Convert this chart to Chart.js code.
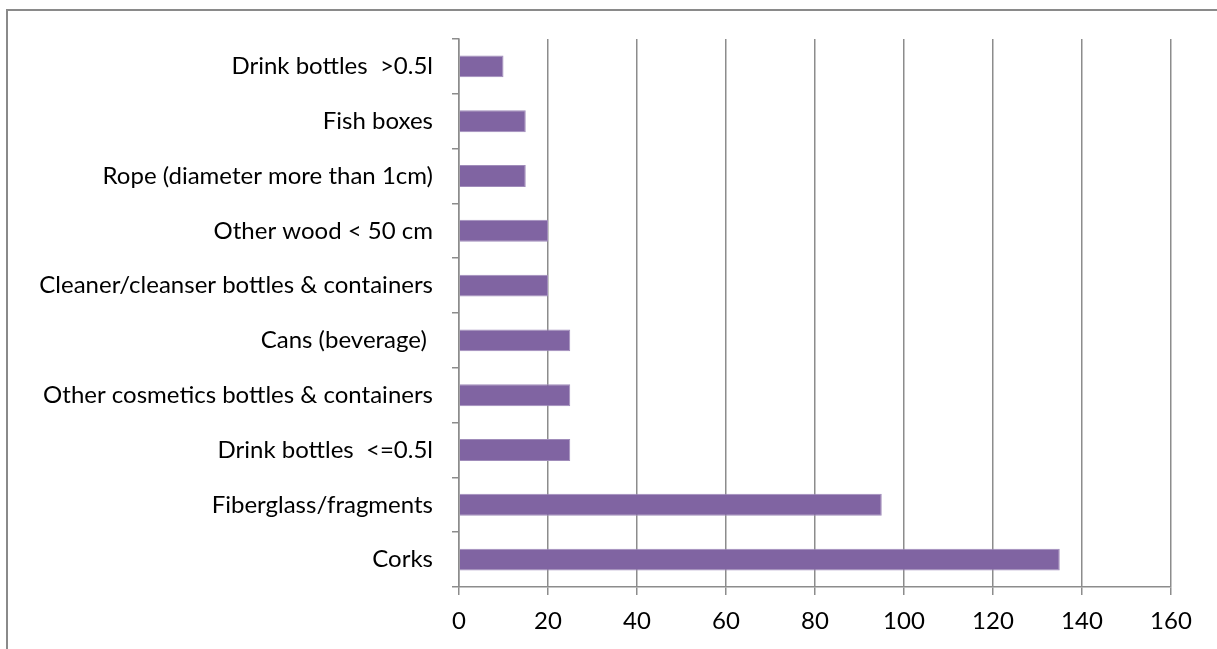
<!DOCTYPE html>
<html>
<head>
<meta charset="utf-8">
<script src="https://cdn.jsdelivr.net/npm/chart.js@4"></script>
<style>
  html, body { margin: 0; padding: 0; background: #ffffff; overflow: hidden; }
  #wrap { position: absolute; left: 0; top: 0; width: 1217px; height: 649px; }
  #frame { position: absolute; left: 6px; top: 9px; width: 1240px; height: 700px; border-left: 2px solid #8a8a8a; border-top: 2px solid #8a8a8a; box-sizing: border-box; }
  canvas { position: absolute; left: 0; top: 0; }
</style>
</head>
<body>
<div id="wrap">
  <div id="frame"></div>
  <canvas id="c" width="1217" height="649"></canvas>
</div>
<script>
const categories = [
  "Drink bottles  >0.5l",
  "Fish boxes",
  "Rope (diameter more than 1cm)",
  "Other wood < 50 cm",
  "Cleaner/cleanser bottles & containers",
  "Cans (beverage) ",
  "Other cosmetics bottles & containers",
  "Drink bottles  <=0.5l",
  "Fiberglass/fragments",
  "Corks"
];
const counts = [10, 15, 15, 20, 20, 25, 25, 25, 95, 135];
const xTicks = [0, 20, 40, 60, 80, 100, 120, 140, 160];

const FONT = { family: "Lato, 'Open Sans', sans-serif", size: 24 };

new Chart(document.getElementById('c'), {
  type: 'bar',
  data: {
    labels: categories,
    datasets: [{
      data: counts,
      backgroundColor: '#8064A2',
      borderColor: '#A08CBA',
      borderWidth: 1,
      barPercentage: 0.4,
      categoryPercentage: 1.0
    }]
  },
  options: {
    indexAxis: 'y',
    responsive: false,
    animation: false,
    layout: { padding: { top: 39, right: 46, left: 0, bottom: 0 } },
    plugins: { legend: { display: false }, tooltip: { enabled: false } },
    scales: {
      x: {
        min: 0, max: 160,
        afterBuildTicks: (axis) => { axis.ticks = xTicks.map(v => ({ value: v })); },
        grid: { color: '#8c8c8c', lineWidth: 1.5, tickLength: 8, drawOnChartArea: true },
        border: { color: '#8c8c8c', width: 1.5 },
        ticks: { color: '#000', font: FONT, padding: 12, maxRotation: 0 },
        afterFit: (axis) => { axis.height = 62; }
      },
      y: {
        grid: { offset: true, color: '#8c8c8c', lineWidth: 1.5, tickLength: 7, drawOnChartArea: false },
        border: { color: '#8c8c8c', width: 1.5 },
        ticks: { color: '#000', font: FONT, padding: 19 },
        afterFit: (axis) => { axis.width = 459; }
      }
    }
  }
});
</script>
</body>
</html>
